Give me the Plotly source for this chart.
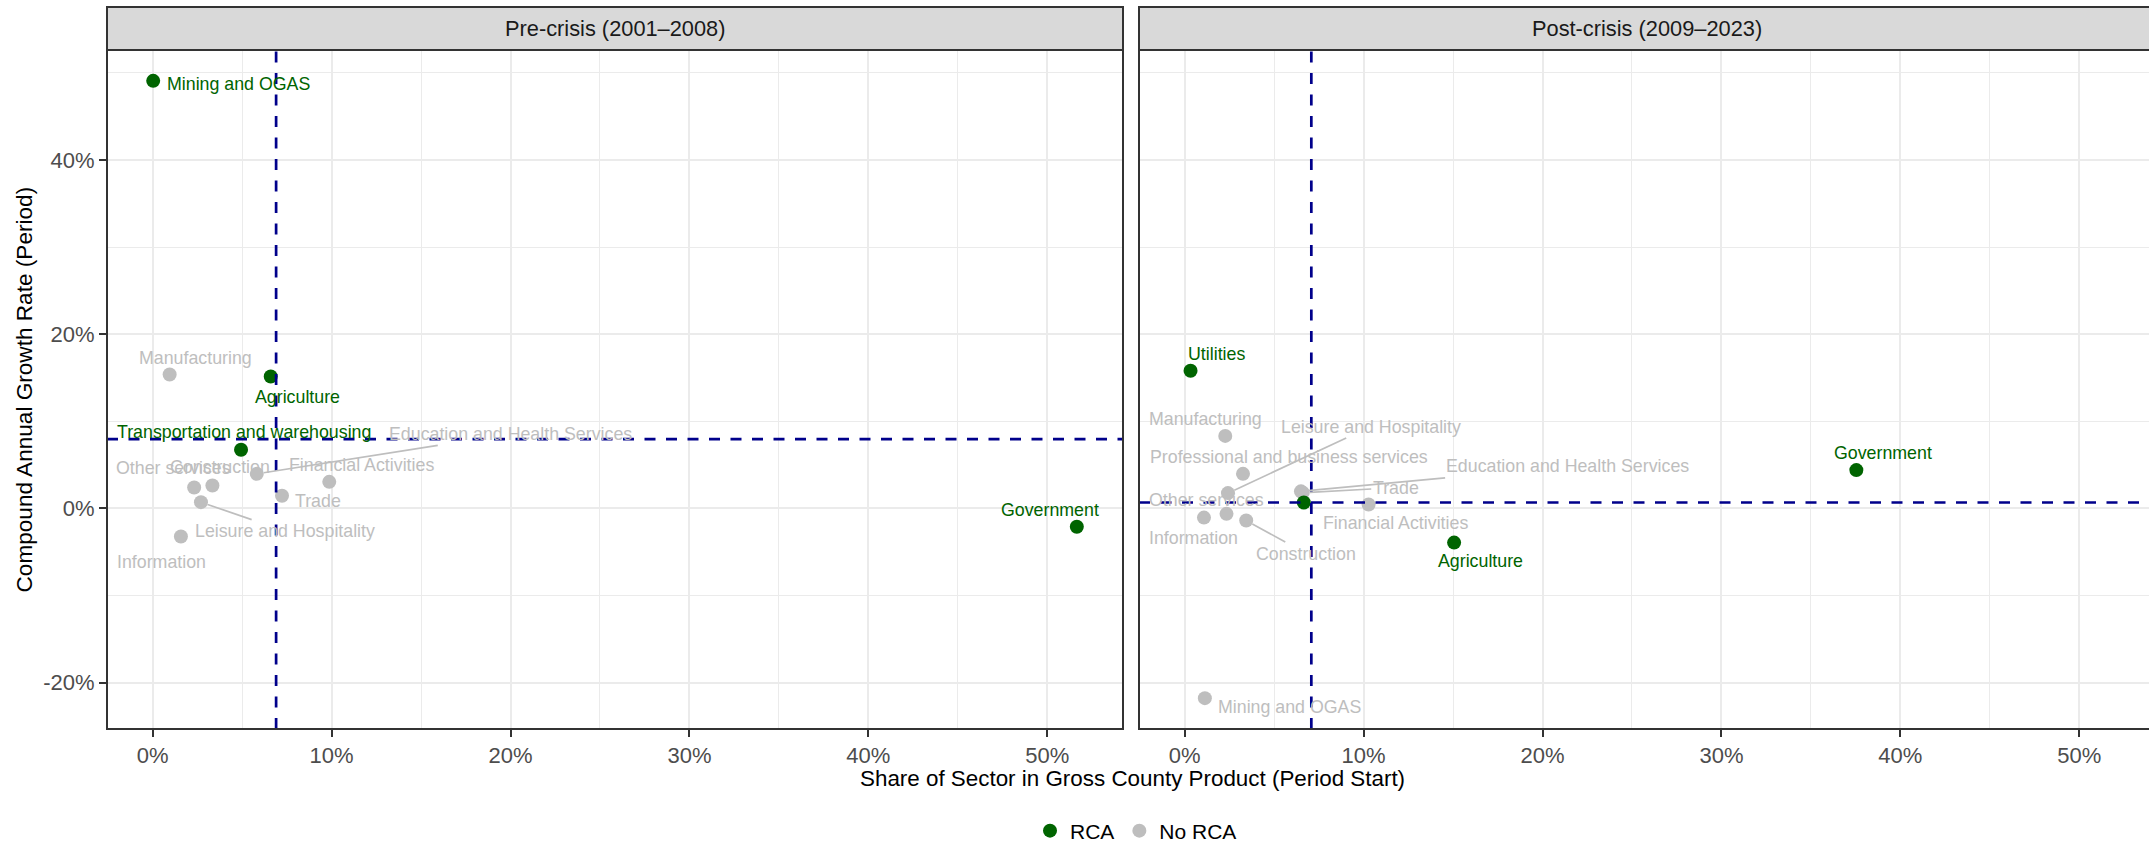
import plotly.graph_objects as go

# ---------------- data ----------------
pre_sectors = ["Mining and OGAS", "Manufacturing", "Agriculture", "Transportation and warehousing",
               "Education and Health Services", "Other services", "Construction", "Financial Activities",
               "Trade", "Leisure and Hospitality", "Information", "Government"]
pre_share = [0.03, 0.95, 6.60, 4.94, 5.82, 2.32, 3.34, 9.87, 7.23, 2.70, 1.58, 51.65]
pre_growth = [49.08, 15.36, 15.13, 6.72, 3.96, 2.39, 2.62, 3.04, 1.44, 0.71, -3.24, -2.12]
pre_rca = [True, False, True, True, False, False, False, False, False, False, False, True]

post_sectors = ["Utilities", "Manufacturing", "Professional and business services", "Leisure and Hospitality",
                "Education and Health Services", "Trade", "Transportation and warehousing",
                "Financial Activities", "Other services", "Information", "Construction",
                "Agriculture", "Government", "Mining and OGAS"]
post_share = [0.33, 2.27, 3.26, 2.42, 6.50, 6.60, 6.66, 10.28, 2.34, 1.08, 3.44, 15.06, 37.54, 1.13]
post_growth = [15.79, 8.32, 3.96, 1.75, 1.95, 1.80, 0.67, 0.44, -0.63, -1.06, -1.40, -3.93, 4.39, -21.79]
post_rca = [True, False, False, False, False, False, True, False, False, False, False, True, True, False]

# reference lines (share threshold, growth reference) per period
pre_share_ref, pre_growth_ref = 6.9, 7.95
post_share_ref, post_growth_ref = 7.08, 0.67

panel_titles = ["Pre-crisis (2001\u20132008)", "Post-crisis (2009\u20132023)"]
x_ticks = [0, 10, 20, 30, 40, 50]
x_tick_labels = ["0%", "10%", "20%", "30%", "40%", "50%"]
x_minor = [5, 15, 25, 35, 45]
y_ticks = [-20, 0, 20, 40]
y_tick_labels = ["-20%", "0%", "20%", "40%"]
y_minor = [-10, 10, 30, 50]
legend_labels = ["RCA", "No RCA"]
x_title = "Share of Sector in Gross County Product (Period Start)"
y_title = "Compound Annual Growth Rate (Period)"

# label placement (pixel offsets of label centre from point: dx, dy(down), leader line)
pre_label_place = {
    "Mining and OGAS": (85, 3, False), "Manufacturing": (26, -17, False),
    "Agriculture": (27, 20, False), "Transportation and warehousing": (3, -17.5, False),
    "Education and Health Services": (254, -40, True), "Other services": (-21, -19.5, False),
    "Construction": (8, -19, False), "Financial Activities": (32, -17, False),
    "Trade": (36, 5, False), "Leisure and Hospitality": (84, 29, True),
    "Information": (-19.5, 25.5, False), "Government": (-26.5, -17, False),
}
post_label_place = {
    "Utilities": (26, -17, False), "Manufacturing": (-20, -17, False),
    "Professional and business services": (46, -17, False),
    "Leisure and Hospitality": (143, -66.5, True),
    "Education and Health Services": (267, -25, True), "Trade": (93, -5, True),
    "Financial Activities": (27, 18, False), "Other services": (-20, -14, False),
    "Information": (-10, 20.5, False), "Construction": (60, 33, True),
    "Agriculture": (26, 18, False), "Government": (26.5, -17.5, False),
    "Mining and OGAS": (85, 8.5, False),
}

# ---------------- styling ----------------
FONT = "Liberation Sans, Arial, Helvetica, sans-serif"
GREEN = "#006400"
GREY = "#BEBEBE"
NAVY = "#00008B"
BORDER = "#333333"
GRID = "#EBEBEB"
W, H = 2149, 842
ML, MR, MT, MB = 107, 0, 50, 113
PW, PH = W - ML - MR, H - MT - MB
P1 = (0, 1016 / PW)
P2 = (1032 / PW, 1.0)
STRIP_H = 43 / PH

all_x = pre_share + post_share
all_y = pre_growth + post_growth
xpad = 0.05 * (max(all_x) - min(all_x))
ypad = 0.05 * (max(all_y) - min(all_y))
xr = [min(all_x) - xpad, max(all_x) + xpad]
yr = [min(all_y) - ypad, max(all_y) + ypad]
# right panel is cut at the picture edge
p1w = (P1[1] - P1[0]) * PW
p2w = (P2[1] - P2[0]) * PW
xr2 = [xr[0], xr[0] + (xr[1] - xr[0]) * p2w / p1w]

fig = go.Figure()

panels = [
    (pre_sectors, pre_share, pre_growth, pre_rca, pre_label_place, pre_share_ref, pre_growth_ref, "x", "y"),
    (post_sectors, post_share, post_growth, post_rca, post_label_place, post_share_ref, post_growth_ref, "x2", "y2"),
]

annotations = []
shapes = []
for pi, (sec, sx, sy, rca, place, sref, gref, xa, ya) in enumerate(panels):
    for flag, name, col, rank in [(False, legend_labels[1], GREY, 2), (True, legend_labels[0], GREEN, 1)]:
        xs = [x for x, r in zip(sx, rca) if r == flag]
        ys = [y for y, r in zip(sy, rca) if r == flag]
        ns = [n for n, r in zip(sec, rca) if r == flag]
        fig.add_trace(go.Scatter(
            x=xs, y=ys, text=ns, mode="markers", name=name, xaxis=xa, yaxis=ya,
            marker=dict(color=col, size=14, line=dict(width=0)),
            legendgroup=name, showlegend=(pi == 0), legendrank=rank,
            hovertemplate="%{text}<br>%{x:.1f}%, %{y:.1f}%<extra></extra>"))
    for n, x, y, r in zip(sec, sx, sy, rca):
        if n not in place:
            continue
        dx, dy, leader = place[n]
        col = GREEN if r else GREY
        a = dict(x=x, y=y, xref=xa, yref=ya, text=n,
                 font=dict(family=FONT, size=17.8, color=col))
        if leader:
            a.update(showarrow=True, ax=dx, ay=dy, arrowhead=0, arrowwidth=1.7,
                     arrowcolor=GREY, standoff=7)
        else:
            a.update(showarrow=False, xshift=dx, yshift=-dy)
        annotations.append(a)
    # reference lines
    shapes.append(dict(type="line", xref=xa, yref=f"{ya} domain", x0=sref, x1=sref, y0=0, y1=1,
                       line=dict(color=NAVY, width=2.7, dash="11px,10.5px"), layer="above"))
    shapes.append(dict(type="line", xref=f"{xa} domain", yref=ya, x0=0, x1=1, y0=gref, y1=gref,
                       line=dict(color=NAVY, width=2.7, dash="11px,10.5px"), layer="above"))

# panel borders and strips
for pi, dom in enumerate([P1, P2]):
    x1 = dom[1] if pi == 0 else 1.01
    shapes.append(dict(type="rect", xref="paper", yref="paper", x0=dom[0], x1=x1, y0=0, y1=1,
                       line=dict(color=BORDER, width=2), fillcolor="rgba(0,0,0,0)", layer="above"))
    shapes.append(dict(type="rect", xref="paper", yref="paper", x0=dom[0], x1=x1, y0=1, y1=1 + STRIP_H,
                       line=dict(color=BORDER, width=2), fillcolor="#D9D9D9", layer="above"))
    cx = (dom[0] + dom[0] + p1w / PW) / 2
    annotations.append(dict(x=cx, y=1 + STRIP_H / 2, xref="paper", yref="paper", text=panel_titles[pi],
                            showarrow=False, font=dict(family=FONT, size=21.8, color="#1A1A1A"),
                            xanchor="center", yanchor="middle"))

# axis titles
annotations.append(dict(x=(1132 - ML) / PW, y=-(778 - (H - MB)) / PH, xref="paper", yref="paper",
                        text=x_title, showarrow=False, xanchor="center", yanchor="middle",
                        font=dict(family=FONT, size=22.4, color="#000000")))
annotations.append(dict(x=(24 - ML) / PW, y=0.5, xref="paper", yref="paper", text=y_title,
                        showarrow=False, textangle=-90, xanchor="center", yanchor="middle",
                        font=dict(family=FONT, size=22.6, color="#000000")))

xaxis_common = dict(
    tickmode="array", tickvals=x_ticks, ticktext=x_tick_labels,
    showgrid=True, gridcolor=GRID, gridwidth=2.2, zeroline=False, showline=False,
    ticks="outside", ticklen=7, tickwidth=2, tickcolor=BORDER,
    tickfont=dict(family=FONT, size=22, color="#4D4D4D"),
    minor=dict(tickmode="array", tickvals=x_minor, showgrid=True, gridcolor=GRID, gridwidth=1.1, ticks=""),
    fixedrange=True,
)
yaxis_common = dict(
    tickmode="array", tickvals=y_ticks, ticktext=y_tick_labels, range=yr,
    showgrid=True, gridcolor=GRID, gridwidth=2.2, zeroline=False, showline=False,
    minor=dict(tickmode="array", tickvals=y_minor, showgrid=True, gridcolor=GRID, gridwidth=1.1, ticks=""),
    fixedrange=True,
)

fig.update_layout(
    width=W, height=H,
    margin=dict(l=ML, r=MR, t=MT, b=MB, autoexpand=False),
    paper_bgcolor="white", plot_bgcolor="white",
    font=dict(family=FONT, color="#000000"),
    xaxis=dict(domain=list(P1), range=xr, anchor="y", **xaxis_common),
    xaxis2=dict(domain=list(P2), range=xr2, anchor="y2", **xaxis_common),
    yaxis=dict(domain=[0, 1], anchor="x", ticks="outside", ticklen=7, tickwidth=2, tickcolor=BORDER,
               tickfont=dict(family=FONT, size=22, color="#4D4D4D"), **yaxis_common),
    yaxis2=dict(domain=[0, 1], anchor="x2", showticklabels=False, ticks="", **yaxis_common),
    showlegend=True,
    legend=dict(orientation="h", x=(1136 - ML) / PW, xanchor="center",
                y=-(831 - (H - MB)) / PH, yanchor="middle",
                font=dict(family=FONT, size=21, color="#000000"),
                itemwidth=30, bgcolor="rgba(0,0,0,0)", tracegroupgap=0),
    shapes=shapes, annotations=annotations,
)

fig.write_html("out.html",
               config={"displayModeBar": False},
               post_script="document.body.style.margin='0';document.body.style.overflow='hidden';")
